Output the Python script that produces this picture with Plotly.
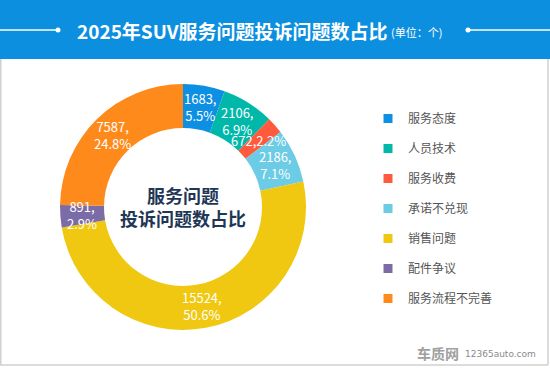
import math
import plotly.graph_objects as go

categories = ["服务态度", "人员技术", "服务收费", "承诺不兑现", "销售问题", "配件争议", "服务流程不完善"]
values = [1683, 2106, 672, 2186, 15524, 891, 7587]
percents = [5.5, 6.9, 2.2, 7.1, 50.6, 2.9, 24.8]
colors = ["#0d8fe3", "#00b8a9", "#ff5a3d", "#6ccbe5", "#f0c811", "#7b6ca8", "#ff8a1c"]
label_sep = ["<br>", "<br>", "", "<br>", "<br>", "<br>", "<br>"]

title_main = "2025年SUV服务问题投诉问题数占比"
title_unit = "(单位：个)"
center_text = "服务问题<br>投诉问题数占比"

W, H = 550, 368
FONT = "Noto Sans CJK SC"

texts = [f"{v},{s}{p:.1f}%" for v, s, p in zip(values, label_sep, percents)]

fig = go.Figure()

cx, cy, r_out, r_in = 183, 207, 123, 79
fig.add_trace(go.Pie(
    labels=categories, values=values, text=texts,
    textinfo="none",
    marker=dict(colors=colors, line=dict(width=0)),
    hole=r_in / r_out, sort=False, direction="clockwise", rotation=0,
    showlegend=False, hoverinfo="label+value+percent",
    domain=dict(x=[(cx - r_out) / W, (cx + r_out) / W],
                y=[(H - cy - r_out) / H, (H - cy + r_out) / H]),
))

for i, (c, col) in enumerate(zip(categories, colors)):
    fig.add_trace(go.Scatter(
        x=[None], y=[None], mode="markers", name=c,
        marker=dict(symbol="square", size=9, color=col),
        legendgroup=f"g{i}", showlegend=True,
    ))


def px(x):
    return x / W


def py(y):
    return 1 - y / H


shapes = [
    dict(type="rect", xref="paper", yref="paper", x0=0, x1=1, y0=py(59), y1=1,
         fillcolor="#0d8fe0", line=dict(width=0), layer="below"),
    dict(type="line", xref="paper", yref="paper", x0=0, x1=px(56), y0=py(30), y1=py(30),
         line=dict(color="white", width=1.5)),
    dict(type="circle", xref="paper", yref="paper", x0=px(55.5), x1=px(60.5), y0=py(32.5), y1=py(27.5),
         fillcolor="white", line=dict(width=0)),
    dict(type="circle", xref="paper", yref="paper", x0=px(465.5), x1=px(470.5), y0=py(32.5), y1=py(27.5),
         fillcolor="white", line=dict(width=0)),
    dict(type="line", xref="paper", yref="paper", x0=px(469), x1=1, y0=py(30), y1=py(30),
         line=dict(color="white", width=1.5)),
    dict(type="line", xref="paper", yref="paper", x0=px(0.75), x1=px(0.75), y0=py(365), y1=py(59),
         line=dict(color="#d0d0d0", width=1.5)),
    dict(type="line", xref="paper", yref="paper", x0=px(548), x1=px(548), y0=py(365), y1=py(59),
         line=dict(color="#d0d0d0", width=1.5)),
    dict(type="line", xref="paper", yref="paper", x0=0, x1=px(548), y0=py(365), y1=py(365),
         line=dict(color="#d0d0d0", width=1.5)),
]

annotations = [
    dict(text=f"<b>{title_main}</b>", xref="paper", yref="paper", x=px(75), y=py(30),
         xanchor="left", yanchor="middle", showarrow=False,
         font=dict(family=FONT, size=19, color="white")),
    dict(text=title_unit, xref="paper", yref="paper", x=px(389), y=py(32),
         xanchor="left", yanchor="middle", showarrow=False,
         font=dict(family=FONT, size=11, color="white")),
    dict(text=f"<b>{center_text}</b>", xref="paper", yref="paper", x=px(cx), y=py(cy - 1),
         xanchor="center", yanchor="middle", showarrow=False,
         font=dict(family=FONT, size=18, color="#1f3756")),
    dict(text="<b>车质网</b>", xref="paper", yref="paper", x=px(461), y=py(353),
         xanchor="right", yanchor="middle", showarrow=False,
         font=dict(family=FONT, size=14, color="#a0a0a0")),
    dict(text="12365auto.com", xref="paper", yref="paper", x=px(463), y=py(354),
         xanchor="left", yanchor="middle", showarrow=False,
         font=dict(family="DejaVu Sans", size=9, color="#8a8a8a")),
]

# slice labels placed at each slice's mid-angle, mid-radius (derived from the data)
total = sum(values)
r_mid = (r_in + r_out) / 2
cum = 0
for v, t in zip(values, texts):
    ang = 2 * math.pi * (cum + v / 2) / total
    cum += v
    lx = cx + r_mid * math.sin(ang)
    ly = cy - r_mid * math.cos(ang)
    annotations.append(dict(
        text=t, xref="paper", yref="paper", x=px(lx), y=py(ly),
        xanchor="center", yanchor="middle", showarrow=False,
        font=dict(family=FONT, size=13, color="white"),
    ))

fig.update_layout(
    width=W, height=H, margin=dict(l=0, r=0, t=0, b=0),
    paper_bgcolor="white", plot_bgcolor="white",
    xaxis=dict(visible=False), yaxis=dict(visible=False),
    shapes=shapes, annotations=annotations,
    legend=dict(x=px(368), y=py(104), xanchor="left", yanchor="top",
                font=dict(family=FONT, size=12, color="#555555"),
                tracegroupgap=11, traceorder="grouped", itemwidth=30,
                bgcolor="rgba(0,0,0,0)"),
)

fig.write_html("out.html",
               config={"displayModeBar": False},
               post_script="document.body.style.margin='0';document.body.style.overflow='hidden';")
